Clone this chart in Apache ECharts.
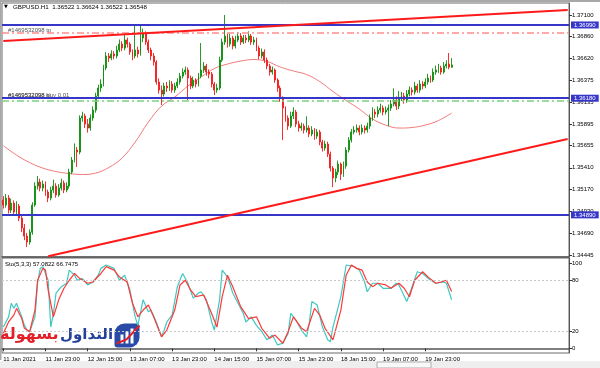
<!DOCTYPE html>
<html><head><meta charset="utf-8">
<script src="https://cdn.jsdelivr.net/npm/echarts@6/dist/echarts.min.js"></script>
<style>html,body{margin:0;padding:0;background:#fff}#c{width:600px;height:368px}</style>
</head><body><div id="c"></div>
<script>
const titleText = 'GBPUSD.H1  1.36522 1.36624 1.36522 1.36548';
const stochTitle = 'Sto(5,3,3) 57.0822 66.7475';
const tpText = '#1469532098 tp';
const slText = '#1469532098 sl';
const buyText = '#1469532098 buy 0.01';

const opens = [1.35053,1.34998,1.35076,1.34943,1.35020,1.34921,1.34987,1.34854,1.34744,1.34655,
1.34589,1.34699,1.34998,1.35208,1.35253,1.35186,1.35230,1.35142,1.35076,1.35164,
1.35208,1.35109,1.35186,1.35241,1.35164,1.35208,1.35363,1.35496,1.35607,1.35584,
1.35961,1.35983,1.35894,1.35850,1.35961,1.36049,1.36204,1.36293,1.36337,1.36514,
1.36647,1.36624,1.36669,1.36647,1.36713,1.36779,1.36735,1.36824,1.36779,1.36691,
1.36647,1.36713,1.36669,1.36846,1.36890,1.36801,1.36713,1.36647,1.36580,1.36359,
1.36270,1.36226,1.36315,1.36293,1.36337,1.36270,1.36315,1.36359,1.36425,1.36469,
1.36492,1.36403,1.36315,1.36381,1.36337,1.36425,1.36492,1.36536,1.36469,1.36447,
1.36337,1.36270,1.36293,1.36602,1.36801,1.36868,1.36779,1.36846,1.36757,1.36824,
1.36868,1.36801,1.36846,1.36824,1.36868,1.36801,1.36824,1.36735,1.36647,1.36691,
1.36602,1.36536,1.36469,1.36492,1.36381,1.36293,1.36182,1.36071,1.35961,1.35872,
1.35983,1.36027,1.35894,1.35850,1.35872,1.35828,1.35850,1.35784,1.35828,1.35761,
1.35806,1.35695,1.35629,1.35673,1.35562,1.35407,1.35297,1.35363,1.35452,1.35341,
1.35430,1.35607,1.35717,1.35806,1.35828,1.35850,1.35806,1.35850,1.35828,1.35872,
1.35961,1.36027,1.36005,1.36049,1.36071,1.36027,1.36049,1.36071,1.36115,1.36160,
1.36093,1.36182,1.36204,1.36160,1.36226,1.36270,1.36248,1.36315,1.36270,1.36337,
1.36315,1.36359,1.36403,1.36381,1.36469,1.36492,1.36514,1.36469,1.36536,1.36558,
1.36522];
const closes = [1.34998,1.35076,1.34943,1.35020,1.34921,1.34987,1.34854,1.34744,1.34655,1.34589,
1.34699,1.34998,1.35208,1.35253,1.35186,1.35230,1.35142,1.35076,1.35164,1.35208,
1.35109,1.35186,1.35241,1.35164,1.35208,1.35363,1.35496,1.35607,1.35584,1.35961,
1.35983,1.35894,1.35850,1.35961,1.36049,1.36204,1.36293,1.36337,1.36514,1.36647,
1.36624,1.36669,1.36647,1.36713,1.36779,1.36735,1.36824,1.36779,1.36691,1.36647,
1.36713,1.36669,1.36846,1.36890,1.36801,1.36713,1.36647,1.36580,1.36359,1.36270,
1.36226,1.36315,1.36293,1.36337,1.36270,1.36315,1.36359,1.36425,1.36469,1.36492,
1.36403,1.36315,1.36381,1.36337,1.36425,1.36492,1.36536,1.36469,1.36447,1.36337,
1.36270,1.36293,1.36602,1.36801,1.36868,1.36779,1.36846,1.36757,1.36824,1.36868,
1.36801,1.36846,1.36824,1.36868,1.36801,1.36824,1.36735,1.36647,1.36691,1.36602,
1.36536,1.36469,1.36492,1.36381,1.36293,1.36182,1.36071,1.35961,1.35872,1.35983,
1.36027,1.35894,1.35850,1.35872,1.35828,1.35850,1.35784,1.35828,1.35761,1.35806,
1.35695,1.35629,1.35673,1.35562,1.35407,1.35297,1.35363,1.35452,1.35341,1.35430,
1.35607,1.35717,1.35806,1.35828,1.35850,1.35806,1.35850,1.35828,1.35872,1.35961,
1.36027,1.36005,1.36049,1.36071,1.36027,1.36049,1.36071,1.36115,1.36160,1.36093,
1.36182,1.36204,1.36160,1.36226,1.36270,1.36248,1.36315,1.36270,1.36337,1.36315,
1.36359,1.36403,1.36381,1.36469,1.36492,1.36514,1.36469,1.36536,1.36558,1.36522,
1.36548];
const highs = [1.35098,1.35120,1.35110,1.35070,1.35050,1.35040,1.35010,1.34880,1.34790,1.34690,
1.34730,1.35030,1.35250,1.35320,1.35290,1.35270,1.35260,1.35170,1.35200,1.35280,
1.35240,1.35230,1.35290,1.35270,1.35250,1.35400,1.35530,1.35680,1.35640,1.35990,
1.36030,1.36010,1.35950,1.36000,1.36090,1.36240,1.36330,1.36390,1.36550,1.36690,
1.36680,1.36710,1.36700,1.36760,1.36830,1.36810,1.36880,1.36850,1.36800,1.36720,
1.36995,1.36750,1.37000,1.36950,1.36920,1.36830,1.36740,1.36680,1.36600,1.36400,
1.36320,1.36350,1.36360,1.36380,1.36370,1.36350,1.36400,1.36460,1.36510,1.36530,
1.36520,1.36430,1.36420,1.36400,1.36460,1.36790,1.36580,1.36560,1.36500,1.36470,
1.36360,1.36340,1.36640,1.36840,1.37100,1.36900,1.36890,1.36870,1.36870,1.36910,
1.36900,1.36880,1.36880,1.36920,1.36890,1.36860,1.36850,1.36760,1.36730,1.36720,
1.36630,1.36560,1.36530,1.36510,1.36400,1.36320,1.36200,1.36090,1.35990,1.36030,
1.36080,1.36050,1.35930,1.35910,1.35900,1.35980,1.35880,1.35870,1.35850,1.35840,
1.35830,1.35720,1.35710,1.35700,1.35590,1.35430,1.35400,1.35490,1.35470,1.35480,
1.35640,1.35750,1.35840,1.35870,1.35890,1.35880,1.35890,1.35880,1.35910,1.36000,
1.36080,1.36060,1.36090,1.36120,1.36100,1.36090,1.36110,1.36160,1.36290,1.36200,
1.36260,1.36250,1.36240,1.36270,1.36310,1.36300,1.36360,1.36340,1.36380,1.36370,
1.36400,1.36450,1.36430,1.36510,1.36540,1.36560,1.36540,1.36580,1.36600,1.36680,
1.36624];
const lows = [1.34960,1.34970,1.34905,1.34910,1.34880,1.34890,1.34820,1.34700,1.34610,1.34534,
1.34560,1.34670,1.34980,1.35170,1.35150,1.35150,1.35100,1.35031,1.35050,1.35130,
1.35080,1.35090,1.35160,1.35130,1.35140,1.35180,1.35340,1.35470,1.35420,1.35560,
1.35920,1.35850,1.35800,1.35820,1.35930,1.36020,1.36170,1.36250,1.36310,1.36490,
1.36580,1.36600,1.36610,1.36620,1.36690,1.36700,1.36710,1.36740,1.36660,1.36600,
1.36620,1.36630,1.36650,1.36800,1.36770,1.36680,1.36600,1.36540,1.36330,1.36230,
1.36104,1.36200,1.36250,1.36260,1.36240,1.36240,1.36290,1.36330,1.36400,1.36440,
1.36160,1.36280,1.36290,1.36300,1.36310,1.36400,1.36460,1.36430,1.36400,1.36300,
1.36215,1.36240,1.36270,1.36580,1.36770,1.36740,1.36750,1.36720,1.36730,1.36800,
1.36770,1.36780,1.36790,1.36800,1.36770,1.36770,1.36700,1.36610,1.36620,1.36570,
1.36500,1.36430,1.36440,1.36350,1.36250,1.36140,1.35717,1.35920,1.35830,1.35850,
1.35950,1.35860,1.35810,1.35820,1.35790,1.35800,1.35750,1.35760,1.35720,1.35730,
1.35660,1.35590,1.35600,1.35530,1.35370,1.35197,1.35250,1.35330,1.35275,1.35310,
1.35400,1.35580,1.35690,1.35780,1.35800,1.35770,1.35780,1.35790,1.35800,1.35840,
1.35930,1.35960,1.35970,1.36020,1.35990,1.36000,1.35872,1.36040,1.36090,1.36050,
1.36060,1.36150,1.36120,1.36130,1.36200,1.36210,1.36220,1.36240,1.36240,1.36280,
1.36290,1.36330,1.36350,1.36360,1.36440,1.36460,1.36440,1.36450,1.36510,1.36500,
1.36522];

const maIdx = [0,5,10,15,20,25,30,35,40,45,50,55,60,65,70,75,80,85,90,95,100,105,110,115,120,125,130,135,140,145,150,155,160,165,170];
const maVal = [1.35656,1.35551,1.35468,1.35407,1.35369,1.35347,1.35336,1.35352,1.35413,1.35518,1.35695,1.35916,1.36093,1.36193,1.36315,1.36414,1.36508,1.36558,1.36591,1.36608,1.36586,1.36525,1.36481,1.36442,1.36364,1.36254,1.36154,1.36060,1.35950,1.35883,1.35850,1.35856,1.35883,1.35933,1.36016];

const kIdx = [0,2,3,4,5,7,8,9,10,12,13,14,15,17,18,19,20,22,24,25,27,28,30,32,34,36,37,39,42,44,46,48,50,51,53,55,56,58,60,61,62,64,66,68,70,72,74,75,77,79,80,82,83,85,87,89,91,92,94,96,98,100,102,104,106,108,109,111,113,115,116,117,119,121,123,124,125,128,130,133,135,137,138,140,142,144,147,149,150,153,155,157,159,162,164,167,168,170];
const kVal = [25,37,53,47,53,37,27,21.5,19.5,37,77,94,96,80,25,41,65,72.5,76.5,92,86,80,82,74.5,78,86,94,98,94,80,86,68.5,37,27,57,43,45,31,13.6,21.5,31,39,72.5,88,76.5,59,65,66.5,57,31,21.5,57,92,84,65,53,41,31,37,27,19.5,10,15.6,4,6,17.6,41,33,21.5,13.6,29,55,51,25,10,7.8,25,60.7,98,96,92,78,66.5,76.5,76.5,70.6,70.6,76.5,74.5,55,72.5,90,88,80,76.5,78,76.5,57.08];
const dIdx = [0,2,4,5,7,8,10,12,13,15,16,17,19,21,23,25,27,29,32,34,37,39,42,44,47,49,51,53,55,57,60,62,65,67,69,71,73,76,79,81,83,85,87,90,93,96,98,101,103,106,108,110,113,115,118,120,122,125,128,130,132,134,136,138,140,142,145,147,150,152,154,156,159,161,164,166,168,170];
const dVal = [17.6,31,39,47,35,23.5,19.5,45,80,94,92,68.5,37,57,70.6,80,88,82,76.5,78,88,96,92,84,78,53,37,45,51,37,13.6,21.5,45,74.5,80,68.6,60.7,62.7,41,25,60.7,86,72.5,49,35,37,23.5,11.8,15.6,6,19.5,37,24,19.5,47,39,23.5,10,45,86,98,94,92,78,72.5,76.5,74.5,70.6,76.5,70.6,60.7,80,90,84,76.5,78,80,66.75];

const priceTicks = [1.37100,1.36860,1.36620,1.36375,1.36135,1.35895,1.35655,1.35410,1.35170,1.34930,1.34690,1.34445];
const stochTicks = [0,20,80,100];
const stochLevels = [20,80];
const timeTickIdx = [0,16,32,48,64,80,96,112,128,144,160];
const timeTickLabels = ['11 Jan 2021','11 Jan 23:00','12 Jan 15:00','13 Jan 07:00','13 Jan 23:00','14 Jan 15:00','15 Jan 07:00','15 Jan 23:00','18 Jan 15:00','19 Jan 07:00','19 Jan 23:00'];
const blueLevels = [1.36990,1.36180,1.34890];
const tpLevel = 1.36900;
const slLevel = 1.36150;
const lastPrice = 1.36548;
const upperTrend = [[0,1.36812],[214,1.37155]];
const lowerTrend = [[17,1.34432],[214,1.35730]];
const SLOTS = 215;

const cats = [];
for (let i = 0; i < SLOTS; i++) cats.push(String(i));
const candles = opens.map((o, i) => [o, closes[i], lows[i], highs[i]]);
const FONT = 'Liberation Sans';
const fmt5 = p => Number(p.value).toFixed(5);
const showTick = idx => timeTickIdx.indexOf(idx) >= 0;

const markData = [];
blueLevels.forEach(v => markData.push({
  yAxis: v, lineStyle: {color: '#3636c8', width: 2, type: 'solid'},
  label: {show: true, position: 'end', distance: 2, formatter: fmt5, backgroundColor: '#3636c8',
    color: '#fff', fontSize: 6, fontFamily: FONT, padding: [1, 3, 0, 3]}
}));
markData.push({yAxis: tpLevel, lineStyle: {color: '#ff8c8c', width: 1.5, type: [7, 3, 2, 3]}, label: {show: false}});
markData.push({yAxis: slLevel, lineStyle: {color: '#7fcf7f', width: 1.5, type: [7, 3, 2, 3]}, label: {show: false}});
markData.push({yAxis: lastPrice, lineStyle: {opacity: 0},
  label: {show: true, position: 'end', distance: 2, formatter: fmt5, backgroundColor: '#000',
    color: '#fff', fontSize: 6, fontFamily: FONT, padding: [1, 3, 0, 3]}});
[upperTrend, lowerTrend].forEach(t => markData.push([
  {coord: t[0], lineStyle: {color: '#ff1a1a', width: 2, type: 'solid'}, label: {show: false}},
  {coord: t[1]}
]));

const chart = echarts.init(document.getElementById('c'), null, {renderer: 'canvas'});
chart.setOption({
  animation: false,
  backgroundColor: '#fff',
  textStyle: {fontFamily: FONT},
  grid: [
    {left: 2, top: 3, width: 567, height: 254, show: true, borderColor: '#6a6a6a', borderWidth: 1, backgroundColor: 'transparent'},
    {left: 2, top: 258, width: 567, height: 95, show: true, borderColor: '#6a6a6a', borderWidth: 1, backgroundColor: 'transparent'}
  ],
  xAxis: [
    {type: 'category', gridIndex: 0, data: cats, boundaryGap: true,
     axisLine: {show: true, lineStyle: {color: '#555', width: 1.5}}, axisTick: {show: false}, axisLabel: {show: false}, splitLine: {show: false}},
    {type: 'category', gridIndex: 1, data: cats, boundaryGap: true,
     axisLine: {show: true, lineStyle: {color: '#555', width: 1.5}},
     axisTick: {show: true, interval: showTick, alignWithLabel: true, length: 3, lineStyle: {color: '#333'}},
     axisLabel: {show: true, interval: showTick, align: 'left', margin: 3, fontSize: 6, color: '#000', fontFamily: FONT,
       formatter: (v, idx) => timeTickLabels[timeTickIdx.indexOf(idx)] || ''},
     splitLine: {show: false}}
  ],
  yAxis: [
    {type: 'value', gridIndex: 0, position: 'right', min: 1.34424, max: 1.37233, splitLine: {show: false},
     axisLine: {show: true, lineStyle: {color: '#555'}},
     axisTick: {show: true, length: 3, customValues: priceTicks, lineStyle: {color: '#333'}},
     axisLabel: {show: true, customValues: priceTicks, margin: 3, fontSize: 6, color: '#000', fontFamily: FONT,
       formatter: v => Number(v).toFixed(5)}},
    {type: 'value', gridIndex: 1, position: 'right', min: -5.5, max: 106.2, splitLine: {show: false},
     axisLine: {show: true, lineStyle: {color: '#555'}},
     axisTick: {show: true, length: 3, customValues: stochTicks, lineStyle: {color: '#333'}},
     axisLabel: {show: true, customValues: stochTicks, margin: 3, fontSize: 6, color: '#000', fontFamily: FONT}}
  ],
  series: [
    {type: 'candlestick', xAxisIndex: 0, yAxisIndex: 0, data: candles, barWidth: 1.4,
     itemStyle: {color: '#0e8f0e', color0: '#f21c1c', borderColor: '#0e8f0e', borderColor0: '#f21c1c', borderWidth: 0.9},
     markLine: {silent: true, symbol: 'none', animation: false, precision: 5, data: markData}},
    {type: 'line', xAxisIndex: 0, yAxisIndex: 0, data: maIdx.map((x, i) => [x, maVal[i]]), smooth: 0.4,
     symbol: 'none', lineStyle: {color: '#f37a7a', width: 1}, z: 1},
    {type: 'line', xAxisIndex: 1, yAxisIndex: 1, data: kIdx.map((x, i) => [x, kVal[i]]), symbol: 'none',
     lineStyle: {color: '#3ec9c0', width: 1.2},
     markLine: {silent: true, symbol: 'none', animation: false,
       data: stochLevels.map(v => ({yAxis: v, lineStyle: {color: '#c8c8c8', width: 1, type: [2, 2]}, label: {show: false}}))}},
    {type: 'line', xAxisIndex: 1, yAxisIndex: 1, data: dIdx.map((x, i) => [x, dVal[i]]), symbol: 'none',
     lineStyle: {color: '#ff3838', width: 1.2}}
  ],
  graphic: [
    {type: 'rect', shape: {x: 0, y: 0, width: 600, height: 2}, style: {fill: '#a8a8a8'}, silent: true},
    {type: 'rect', shape: {x: 0, y: 0, width: 1.5, height: 360}, style: {fill: '#a8a8a8'}, silent: true},
    {type: 'rect', shape: {x: 0, y: 361, width: 600, height: 7}, style: {fill: '#eeeeee'}, silent: true},
    {type: 'rect', shape: {x: 377, y: 362, width: 54, height: 6}, style: {fill: '#f8f8f8', stroke: '#b0b0b0', lineWidth: 1}, silent: true},
    {type: 'text', left: 4, top: 4, style: {text: '▼', fontSize: 5, fill: '#000', fontFamily: 'DejaVu Sans'}},
    {type: 'text', left: 13, top: 4, style: {text: titleText, fontSize: 6.2, fill: '#000', fontFamily: FONT}},
    {type: 'text', left: 8, top: 27, style: {text: tpText, fontSize: 6, fill: '#555', fontFamily: FONT}},
    {type: 'text', left: 8, top: 92, style: {text: buyText, fontSize: 6, fill: '#555', fontFamily: FONT}},
    {type: 'text', left: 8, top: 92, style: {text: slText, fontSize: 6, fill: '#555', fontFamily: FONT}},
    {type: 'text', left: 5, top: 261, style: {text: stochTitle, fontSize: 6, fill: '#000', fontFamily: FONT}},
    {type: 'text', left: 0, top: 327, style: {text: 'بسهولة', fontSize: 16, fontWeight: 'bold', fill: '#e41e26', fontFamily: 'DejaVu Sans'}},
    {type: 'text', left: 60, top: 328, style: {text: 'التداول', fontSize: 15, fontWeight: 'bold', fill: '#23409a', fontFamily: 'DejaVu Sans'}},
    {type: 'group', left: 114, top: 323, children: [
      {type: 'rect', shape: {x: 0, y: 2, width: 25, height: 24, r: [10, 3, 10, 3]}, style: {fill: '#2a4aa8'}},
      {type: 'rect', shape: {x: 6, y: 13, width: 3, height: 9}, style: {fill: '#fff'}},
      {type: 'rect', shape: {x: 11, y: 10, width: 3, height: 12}, style: {fill: '#fff'}},
      {type: 'rect', shape: {x: 16, y: 7, width: 3, height: 15}, style: {fill: '#fff'}},
      {type: 'polyline', shape: {points: [[2, 22], [12, 18], [25, 4]]}, style: {stroke: '#e41e26', lineWidth: 2, fill: null}}
    ]}
  ]
});
</script></body></html>
